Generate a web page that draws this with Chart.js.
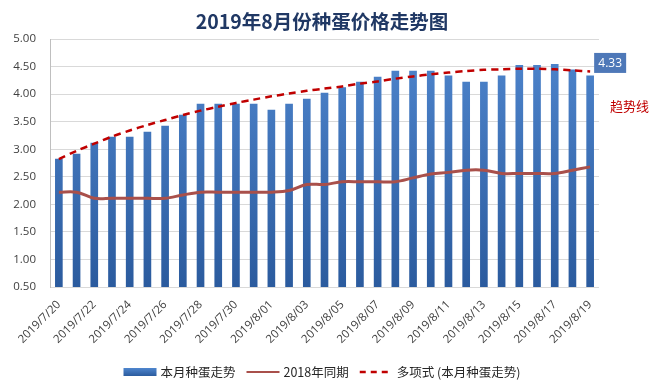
<!DOCTYPE html>
<html>
<head>
<meta charset="utf-8">
<script src="https://cdn.jsdelivr.net/npm/chart.js@4"></script>
<style>
  html, body { margin: 0; padding: 0; background: #fff; }
  #wrap { width: 652px; height: 390px; }
</style>
</head>
<body>
<div id="wrap"><canvas id="eggChart" width="652" height="390"></canvas></div>
<script>
// Dates 2019/7/20 - 2019/8/19
const dates = [
  '2019/7/20', '2019/7/21', '2019/7/22', '2019/7/23', '2019/7/24', '2019/7/25', '2019/7/26',
  '2019/7/27', '2019/7/28', '2019/7/29', '2019/7/30', '2019/7/31', '2019/8/01', '2019/8/02',
  '2019/8/03', '2019/8/04', '2019/8/05', '2019/8/06', '2019/8/07', '2019/8/08', '2019/8/09',
  '2019/8/10', '2019/8/11', '2019/8/12', '2019/8/13', '2019/8/14', '2019/8/15', '2019/8/16',
  '2019/8/17', '2019/8/18', '2019/8/19'
];

// 本月种蛋走势
const thisMonth = [
  2.82, 2.91, 3.11, 3.22, 3.22, 3.31, 3.42, 3.62, 3.82, 3.82, 3.82, 3.82, 3.71, 3.82, 3.91, 4.02,
  4.12, 4.22, 4.31, 4.42, 4.42, 4.42, 4.33, 4.22, 4.22, 4.33, 4.52, 4.52, 4.54, 4.44, 4.33
];

// 2018年同期
const lastYear = [
  2.22, 2.22, 2.11, 2.11, 2.11, 2.11, 2.11, 2.17, 2.22, 2.22, 2.22, 2.22, 2.22, 2.25, 2.36, 2.36,
  2.41, 2.41, 2.41, 2.41, 2.48, 2.55, 2.58, 2.62, 2.62, 2.56, 2.56, 2.56, 2.56, 2.62, 2.68
];

// 多项式 (本月种蛋走势) trend line
const trend = [
  2.82, 2.97, 3.10, 3.23, 3.34, 3.44, 3.53, 3.62, 3.70, 3.77, 3.84, 3.90, 3.96, 4.01, 4.06, 4.10,
  4.14, 4.19, 4.23, 4.28, 4.32, 4.36, 4.39, 4.42, 4.44, 4.45, 4.46, 4.46, 4.45, 4.43, 4.41
];

const yTicks = { min: 0.5, max: 5, step: 0.5 };

const titleText = '2019年8月份种蛋价格走势图';
const legendLabels = ['本月种蛋走势', '2018年同期', '多项式 (本月种蛋走势)'];
const trendNote = '趋势线';

const cjk = '"Noto Sans CJK SC", "Open Sans", sans-serif';

// Bar gradient (lighter on top)
function barGradient(context) {
  const area = context.chart.chartArea;
  if (!area) return '#3C6EB4';
  const g = context.chart.ctx.createLinearGradient(0, area.top, 0, area.bottom);
  g.addColorStop(0, '#4F86CE');
  g.addColorStop(1, '#2B5B9E');
  return g;
}

// Title, legend, last-value label and the trend note
const extras = {
  id: 'extras',
  afterDraw(chart) {
    const ctx = chart.ctx;
    const area = chart.chartArea;
    ctx.save();

    // title
    ctx.fillStyle = '#203864';
    ctx.font = 'bold 19.5px ' + cjk;
    ctx.textAlign = 'center';
    ctx.textBaseline = 'middle';
    ctx.fillText(titleText, 322, 22);

    // value label on last bar
    const meta = chart.getDatasetMeta(0);
    const last = meta.data[meta.data.length - 1];
    const bx = last.x + 4, by = last.y - 23;
    ctx.fillStyle = '#4E78B8';
    ctx.fillRect(bx, by, 32, 20);
    ctx.fillStyle = '#ffffff';
    ctx.font = '12px "Open Sans", sans-serif';
    ctx.textAlign = 'center';
    ctx.fillText(thisMonth[thisMonth.length - 1].toFixed(2), bx + 16, by + 10.5);

    // trend note
    ctx.fillStyle = '#C00000';
    ctx.font = '13px ' + cjk;
    ctx.textAlign = 'left';
    ctx.fillText(trendNote, area.right + 11, 106);

    // legend
    const ly = 372;
    ctx.font = '12.5px ' + cjk;
    ctx.textBaseline = 'middle';
    const sw = 33;
    const gap = 4;
    const spacing = 11;
    let total = 0;
    legendLabels.forEach(t => { total += sw + gap + ctx.measureText(t).width; });
    total += spacing * 2;
    let x = 322 - total / 2;
    legendLabels.forEach((t, i) => {
      if (i === 0) {
        const g = ctx.createLinearGradient(0, ly - 4, 0, ly + 4);
        g.addColorStop(0, '#4F86CE');
        g.addColorStop(1, '#2B5B9E');
        ctx.fillStyle = g;
        ctx.fillRect(x, ly - 4, sw, 8);
      } else {
        ctx.beginPath();
        ctx.lineWidth = i === 1 ? 2 : 2.5;
        ctx.strokeStyle = i === 1 ? '#A9504B' : '#C00000';
        ctx.setLineDash(i === 1 ? [] : [6, 5]);
        ctx.moveTo(x, ly);
        ctx.lineTo(x + sw, ly);
        ctx.stroke();
        ctx.setLineDash([]);
      }
      ctx.fillStyle = '#262626';
      ctx.fillText(t, x + sw + gap, ly);
      x += sw + gap + ctx.measureText(t).width + spacing;
    });

    ctx.restore();
  }
};

const ctx = document.getElementById('eggChart').getContext('2d');
const eggChart = new Chart(ctx, {
  type: 'bar',
  data: {
    labels: dates,
    datasets: [
      {
        type: 'bar',
        label: legendLabels[0],
        data: thisMonth,
        backgroundColor: barGradient,
        barThickness: 7,
        order: 3
      },
      {
        type: 'line',
        label: legendLabels[1],
        data: lastYear,
        borderColor: '#A9504B',
        borderWidth: 3,
        pointRadius: 0,
        tension: 0.35,
        fill: false,
        order: 2
      },
      {
        type: 'line',
        label: legendLabels[2],
        data: trend,
        borderColor: '#C00000',
        borderWidth: 2.5,
        borderDash: [7, 5],
        pointRadius: 0,
        tension: 0.3,
        fill: false,
        order: 1
      }
    ]
  },
  options: {
    responsive: false,
    animation: false,
    layout: { padding: { top: 39, right: 53, left: 0, bottom: 0 } },
    plugins: {
      legend: { display: false },
      title: { display: false },
      tooltip: { enabled: false }
    },
    scales: {
      x: {
        grid: { display: false, drawTicks: false },
        border: { display: false },
        afterFit: scale => { scale.height = 103; },
        ticks: {
          autoSkip: false,
          minRotation: 45,
          maxRotation: 45,
          padding: 11,
          color: '#404040',
          font: { size: 11.5, family: '"Open Sans", sans-serif' },
          callback: function (value, index) {
            return index % 2 === 0 ? this.getLabelForValue(value) : '';
          }
        }
      },
      y: {
        min: yTicks.min,
        max: yTicks.max,
        afterFit: scale => { scale.width = 50; },
        grid: { color: '#D9D9D9', drawTicks: false },
        border: { display: true, color: '#BFBFBF' },
        ticks: {
          stepSize: yTicks.step,
          padding: 14,
          color: '#404040',
          font: { size: 11.5, family: '"Open Sans", sans-serif' },
          callback: v => v.toFixed(2)
        }
      }
    }
  },
  plugins: [extras]
});
</script>
</body>
</html>
